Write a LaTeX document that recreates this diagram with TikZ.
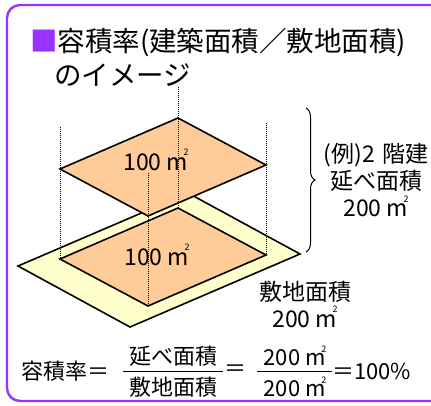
\documentclass[tikz,border=0pt]{standalone}
\usepackage{fontspec}
\setmainfont{Noto Sans CJK JP}
\usetikzlibrary{decorations.pathreplacing}

\definecolor{framepurple}{HTML}{9933FF}
\definecolor{floororange}{HTML}{FFCC99}
\definecolor{siteyellow}{HTML}{FFFFCC}
\newcommand{\sqmeter}{m\kern-0.2em\raisebox{0.62em}{\fontsize{9}{9}\selectfont 2}}

\begin{document}
\begin{tikzpicture}[
    x=1pt, y=-1pt,
    frame/.style={draw=framepurple, line width=2.4pt, rounded corners=13pt},
    floor/.style={draw=black, line width=1.6pt, fill=floororange},
    site/.style={draw=black, line width=1.6pt, fill=siteyellow},
    guide/.style={black, line width=0.8pt, dash pattern=on 1pt off 1pt},
    heading/.style={anchor=west, inner sep=0pt, font=\fontsize{27.5}{32}\selectfont},
    areatag/.style={inner sep=0pt, align=center, font=\fontsize{23}{27}\selectfont},
    formula/.style={inner sep=0pt, font=\fontsize{22}{22}\selectfont}
    ]
    \useasboundingbox (0,0) rectangle (431,405);
    \draw[frame] (7,5) rectangle (450,401);

    \node (head1) [heading] at (30,43) {{\color{framepurple}■}容積率(建築面積／敷地面積)};
    \node (head2) [heading] at (54,75) {のイメージ};

    % site, ground floor, upper floor
    \coordinate (st) at (188,193);
    \coordinate (sr) at (300,254);
    \coordinate (sb) at (130,327);
    \coordinate (sl) at (18,266);
    \coordinate (lt) at (178,208);
    \coordinate (lr) at (266,255);
    \coordinate (lb) at (148,306);
    \coordinate (ll) at (60,259);
    \coordinate (ut) at (178,118);
    \coordinate (ur) at (266,165);
    \coordinate (ub) at (148,216);
    \coordinate (ul) at (60,169);

    \draw[site] (st) -- (sr) -- (sb) -- (sl) -- cycle;
    \draw[floor] (lt) -- (lr) -- (lb) -- (ll) -- cycle;
    \draw[floor] (ut) -- (ur) -- (ub) -- (ul) -- cycle;

    \coordinate (gl) at (60,127);
    \coordinate (gr) at (266,123);
    \coordinate (gt) at (178,87);
    \coordinate (gb) at (148,173);
    \draw[guide] (gl) -- (ll);
    \draw[guide] (gr) -- (lr);
    \draw[guide] (gt) -- (lt);
    \draw[guide] (gb) -- (lb);

    \node (upper) [areatag] at (156,160) {100 \sqmeter};
    \node (lower) [areatag] at (157,255) {100 \sqmeter};

    \coordinate (brtop) at (306,108);
    \coordinate (brbot) at (306,252);
    \draw[line width=1pt, decorate, decoration={brace, amplitude=9pt}] (brtop) -- (brbot);
    \node (total) [areatag] at (376,180) {(例)2\kern2pt\ 階建\\延べ面積\\200 \sqmeter};
    \node (plot) [areatag] at (305,304) {敷地面積\\200 \sqmeter};

    \node (ratio) [formula, anchor=west] at (21,371) {容積率＝};
    \node (num1) [formula] at (173,356) {延べ面積};
    \node (den1) [formula] at (173,387) {敷地面積};
    \draw[line width=1pt] (123,371) -- (223,371);
    \node (eq1) [formula] at (235,371) {＝};
    \node (num2) [formula] at (295,356) {200 \sqmeter};
    \node (den2) [formula] at (295,387) {200 \sqmeter};
    \draw[line width=1pt] (257,371) -- (332,371);
    \node (pct) [formula, anchor=west] at (332,371) {＝100\%};
\end{tikzpicture}
\end{document}
